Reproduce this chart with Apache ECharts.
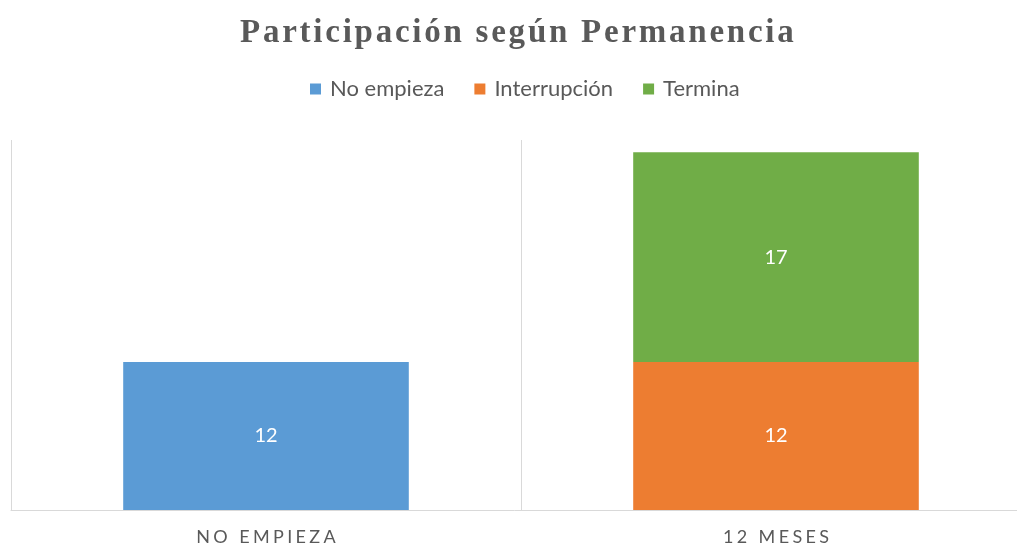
<!DOCTYPE html>
<html>
<head>
<meta charset="utf-8">
<script src="https://cdn.jsdelivr.net/npm/echarts@6/dist/echarts.min.js"></script>
<style>
  html, body { margin: 0; padding: 0; background: #fff; }
  #chart { width: 1017px; height: 547px; }
</style>
</head>
<body>
<div id="chart"></div>
<script>
// datos del grafico
var categorias = ['NO EMPIEZA', '12 MESES'];
var noEmpieza = [12, '-'];
var interrupcion = ['-', 12];
var termina = ['-', 17];

// separa las letras para imitar el espaciado del original
function espaciar(txt, sep) {
  return txt.split('').join(sep);
}

var chart = echarts.init(document.getElementById('chart'));

var etiqueta = {
  show: true,
  position: 'inside',
  color: '#ffffff',
  fontFamily: 'Lato',
  fontSize: 20
};

chart.setOption({
  animation: false,
  title: {
    text: espaciar('Participación según Permanencia', '\u200A'),
    left: 235,
    top: 12,
    textStyle: {
      fontFamily: 'Liberation Serif',
      fontWeight: 'bold',
      fontSize: 33,
      color: '#595959'
    }
  },
  legend: {
    top: 73,
    left: 305,
    itemWidth: 11,
    itemHeight: 11,
    itemGap: 30,
    icon: 'rect',
    textStyle: {
      fontFamily: 'Lato',
      fontSize: 22,
      color: '#595959',
      padding: [0, 0, 0, 4]
    },
    data: ['No empieza', 'Interrupción', 'Termina']
  },
  grid: {
    left: 11,
    right: -14,
    top: 140,
    bottom: 37,
    outerBoundsMode: 'none'
  },
  xAxis: {
    type: 'category',
    data: categorias,
    axisTick: { show: false },
    axisLine: { lineStyle: { color: '#d9d9d9', width: 1 } },
    splitLine: { show: true, interval: 0, lineStyle: { color: '#d9d9d9', width: 1 } },
    axisLabel: {
      margin: 18,
      fontFamily: 'Lato',
      fontSize: 18,
      color: '#595959',
      formatter: function (v) { return espaciar(v, '\u2009\u200A'); }
    }
  },
  yAxis: {
    type: 'value',
    min: 0,
    max: 30,
    show: false,
    splitLine: { show: false }
  },
  series: [
    {
      name: 'No empieza',
      type: 'bar',
      stack: 'total',
      barWidth: '56%',
      itemStyle: { color: '#5b9bd5' },
      label: etiqueta,
      data: noEmpieza
    },
    {
      name: 'Interrupción',
      type: 'bar',
      stack: 'total',
      barWidth: '56%',
      itemStyle: { color: '#ed7d31' },
      label: etiqueta,
      data: interrupcion
    },
    {
      name: 'Termina',
      type: 'bar',
      stack: 'total',
      barWidth: '56%',
      itemStyle: { color: '#70ad47' },
      label: etiqueta,
      data: termina
    }
  ]
});
</script>
</body>
</html>
